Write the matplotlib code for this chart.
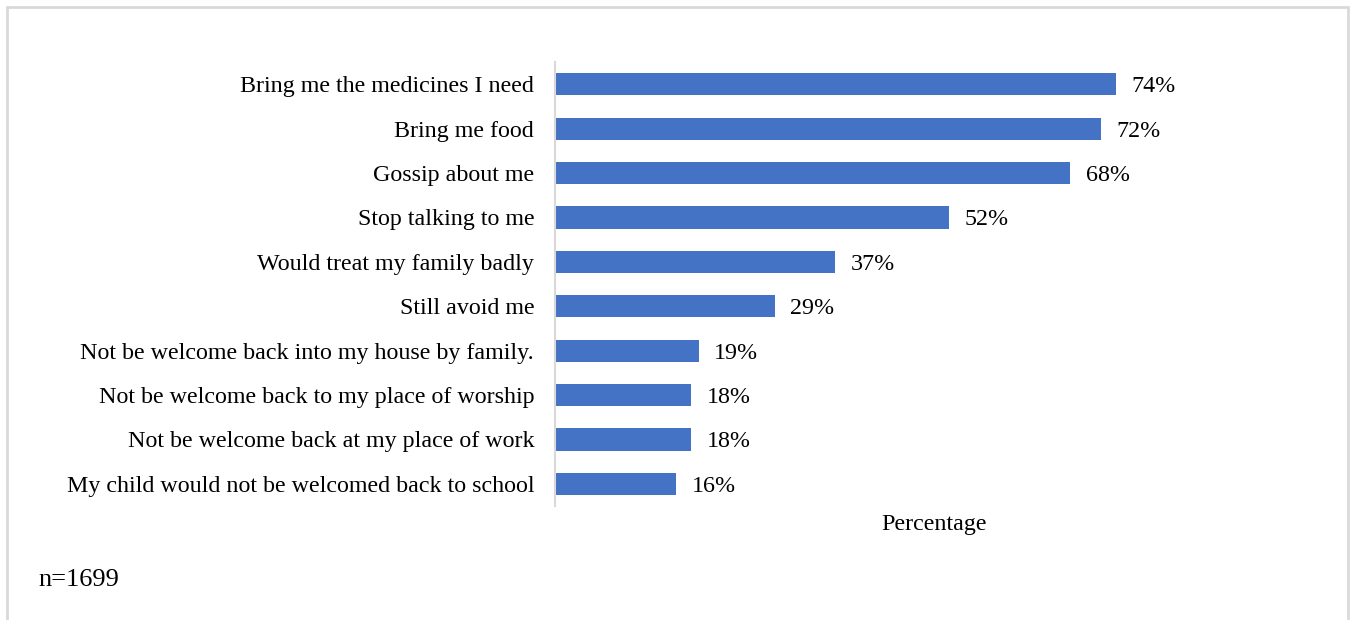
import matplotlib
matplotlib.use("Agg")
import matplotlib.pyplot as plt
from matplotlib.patches import Rectangle

categories = [
    "Bring me the medicines I need",
    "Bring me food",
    "Gossip about me",
    "Stop talking to me",
    "Would treat my family badly",
    "Still avoid me",
    "Not be welcome back into my house by family.",
    "Not be welcome back to my place of worship",
    "Not be welcome back at my place of work",
    "My child would not be welcomed back to school",
]
values = [74, 72, 68, 52, 37, 29, 19, 18, 18, 16]
value_labels = ["74%", "72%", "68%", "52%", "37%", "29%", "19%", "18%", "18%", "16%"]
x_title = "Percentage"
note = "n=1699"

plt.rcParams["font.family"] = ["Liberation Serif", "DejaVu Serif"]
FS = 17.3

fig = plt.figure(figsize=(13.52, 6.2), dpi=100)
fig.patch.set_facecolor("white")

# outer frame of the chart area
fig.add_artist(Rectangle((7 / 1352, -0.05), 1341 / 1352, 1 - 7 / 620 + 0.05,
                         transform=fig.transFigure, fill=False,
                         edgecolor="#d9d9d9", linewidth=2))

ax = fig.add_axes([555 / 1352, 1 - 506 / 620, (1313 - 555) / 1352, (506 - 62) / 620])
ypos = list(range(len(categories)))
ax.barh(ypos, values, height=0.5, color="#4472C4")
ax.set_xlim(0, 100)
ax.set_ylim(len(categories) - 0.5, -0.5)
ax.set_yticks(ypos)
ax.set_yticklabels(categories, fontsize=FS, color="#000000", va="center_baseline")
ax.tick_params(axis="y", length=0, pad=15)
ax.set_xticks([])
for s in ["top", "right", "bottom"]:
    ax.spines[s].set_visible(False)
ax.spines["left"].set_color("#d9d9d9")
ax.spines["left"].set_linewidth(1.5)

for y, v, lab in zip(ypos, values, value_labels):
    ax.annotate(lab, (v, y), xytext=(11, 0), textcoords="offset points",
                va="center_baseline", ha="left", fontsize=FS, color="#000000")

ax.set_xlabel(x_title, fontsize=FS, labelpad=6)
fig.text(38 / 1352, 1 - 578 / 620, note, fontsize=19, va="center_baseline", ha="left")

fig.savefig("out.png", dpi=100, facecolor="white")
